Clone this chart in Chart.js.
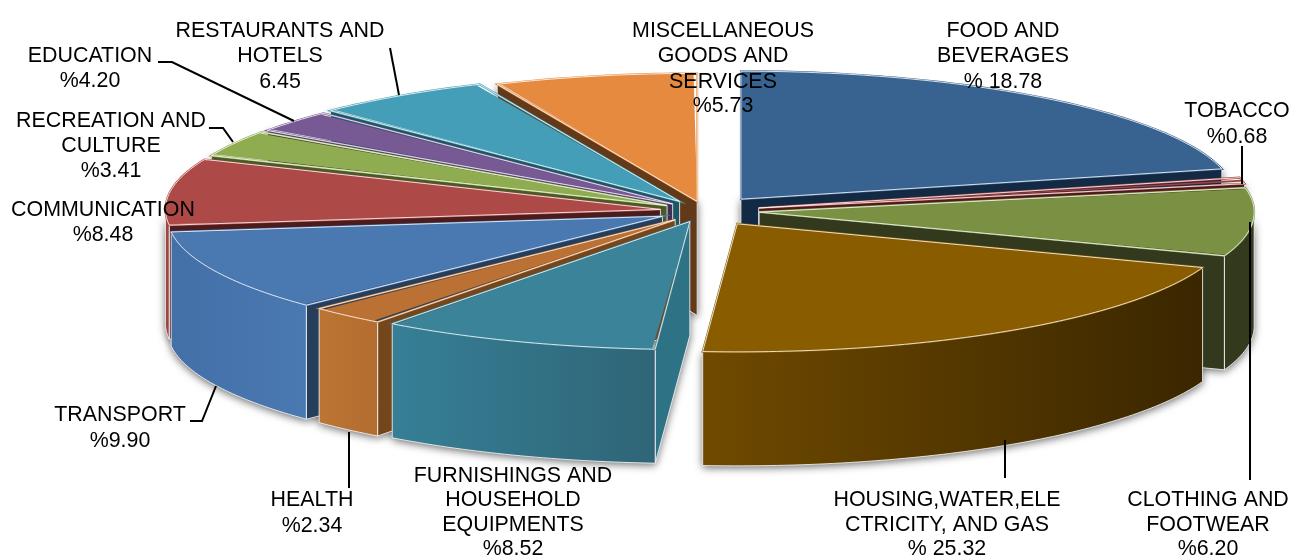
<!DOCTYPE html>
<html lang="en-US">
	<head>
		<meta charset="utf-8" />
		<title>Consumer basket weights</title>
		<style>
			body {
				margin: 0;
				background: #fff;
			}
		</style>
	</head>
	<body>
		<canvas id="chart" width="1293" height="559"></canvas>

		<script src="https://cdn.jsdelivr.net/npm/chart.js@4/dist/chart.umd.min.js"></script>
		<script>
			const categories = [
				["FOOD AND", "BEVERAGES"],
				["TOBACCO"],
				["CLOTHING AND", "FOOTWEAR"],
				["HOUSING,WATER,ELE", "CTRICITY, AND GAS"],
				["FURNISHINGS AND", "HOUSEHOLD", "EQUIPMENTS"],
				["HEALTH"],
				["TRANSPORT"],
				["COMMUNICATION"],
				["RECREATION AND", "CULTURE"],
				["EDUCATION"],
				["RESTAURANTS AND", "HOTELS"],
				["MISCELLANEOUS", "GOODS AND", "SERVICES"],
			];
			const values = [18.78, 0.68, 6.2, 25.32, 8.52, 2.34, 9.9, 8.48, 3.41, 4.2, 6.45, 5.73];
			const valueLabels = ["% 18.78", "%0.68", "%6.20", "% 25.32", "%8.52", "%2.34", "%9.90", "%8.48", "%3.41", "%4.20", "6.45", "%5.73"];

			const topColors = ["#38628f", "#a04040", "#7a9144", "#8a5c00", "#3a8399", "#bb7133", "#4a78b0", "#ad4947", "#8fac50", "#775a94", "#449eb8", "#e58a3f"];
			const sideColors = ["#132a45", "#4d1a1a", "#33391d", "#3a2600", "#2e7286", "#73461c", "#253e5c", "#4c1b1c", "#4a5a26", "#3f2f55", "#1f5663", "#623a1a"];
			const outerColors = [
				["#132a45", "#132a45"],
				["#4d1a1a", "#4d1a1a"],
				["#33391d", "#333a1e"],
				["#6f4a00", "#3a2600"],
				["#367f96", "#2f6577"],
				["#bd7535", "#b46c2f"],
				["#4470a8", "#4a78b0"],
				["#a04442", "#a04442"],
				["#6d8539", "#6d8539"],
				["#59436f", "#59436f"],
				["#337789", "#337789"],
				["#ac672f", "#ac672f"],
			];
			const explode = [106, 100, 99, 108, 79, 82, 86, 82, 79, 77, 82, 69];

			// where the pie sits on the page once it is tipped over
			const centerX = 705;
			const centerY = 211;
			const radiusX = 495;
			const radiusY = 128;
			const wallHeight = 114;

			// the original has camera perspective, slices on the right look wider.
			// [angle on a flat pie, angle it appears at], degrees clockwise from the top
			const perspective = [[0, 0], [70, 79], [92.4, 110], [183.5, 184], [222.6, 226], [258.3, 263], [301, 305], [316, 315], [339.4, 336.2], [360, 360]];

			const labelSpots = [
				{ x: 1003, y: [31, 56, 82] },
				{ x: 1237, y: [111, 137] },
				{ x: 1208, y: [500, 525, 549] },
				{ x: 947, y: [500, 525, 549] },
				{ x: 513, y: [476, 500, 525, 549] },
				{ x: 312, y: [500, 526] },
				{ x: 120, y: [415, 441] },
				{ x: 103, y: [210, 235] },
				{ x: 111, y: [121, 146, 171] },
				{ x: 90, y: [56, 81] },
				{ x: 280, y: [31, 56, 82] },
				{ x: 723, y: [31, 56, 82, 106] },
			];
			const leaders = [
				[[1242, 146], [1242, 184]],
				[[1250, 222], [1250, 480]],
				[[1005, 440], [1005, 478]],
				[[349, 432], [349, 488]],
				[[190, 421], [202, 421], [216, 386]],
				[[209, 128], [223, 128], [233, 142]],
				[[158, 62], [172, 62], [294, 121]],
				[[390, 48], [399, 95]],
			];

			function bend(radians) {
				const deg = (radians + Math.PI / 2) * 180 / Math.PI;
				for (let i = 1; i < perspective.length; i++) {
					const [a0, b0] = perspective[i - 1];
					const [a1, b1] = perspective[i];
					if (deg <= a1) {
						const out = b0 + (b1 - b0) * (deg - a0) / (a1 - a0);
						return out * Math.PI / 180 - Math.PI / 2;
					}
				}
				return radians;
			}

			let baseRadius = 1;

			function scaleX() {
				return radiusX / baseRadius;
			}
			function scaleY() {
				return radiusY / baseRadius;
			}

			// ArcElement moves a slice by a quarter of its offset option
			function shift(arc) {
				return arc.options.offset / 4;
			}

			// arc element geometry -> page position
			function rimPoint(arc, angle) {
				const mid = (arc.startAngle + arc.endAngle) / 2;
				return [
					centerX + scaleX() * (Math.cos(mid) * shift(arc) + Math.cos(angle) * baseRadius),
					centerY + scaleY() * (Math.sin(mid) * shift(arc) + Math.sin(angle) * baseRadius),
				];
			}
			function apexPoint(arc) {
				const mid = (arc.startAngle + arc.endAngle) / 2;
				return [centerX + scaleX() * Math.cos(mid) * shift(arc), centerY + scaleY() * Math.sin(mid) * shift(arc)];
			}

			function rimSamples(arc, from, to) {
				const pts = [];
				const n = Math.max(2, Math.ceil((to - from) * 60));
				for (let i = 0; i <= n; i++) {
					pts.push(rimPoint(arc, from + (to - from) * i / n));
				}
				return pts;
			}

			function polygon(ctx, pts) {
				ctx.beginPath();
				pts.forEach((p, i) => (i ? ctx.lineTo(p[0], p[1]) : ctx.moveTo(p[0], p[1])));
				ctx.closePath();
			}

			function sideFace(arc, angle) {
				const a = apexPoint(arc);
				const r = rimPoint(arc, angle);
				return [a, r, [r[0], r[1] + wallHeight], [a[0], a[1] + wallHeight]];
			}

			// only the cut that looks towards the viewer gets drawn
			function visibleSide(arc) {
				if (Math.cos(arc.startAngle) < 0) {
					return sideFace(arc, arc.startAngle);
				}
				if (Math.cos(arc.endAngle) > 0) {
					return sideFace(arc, arc.endAngle);
				}
				return null;
			}

			function outerFace(arc) {
				const from = Math.max(arc.startAngle, 0);
				const to = Math.min(arc.endAngle, Math.PI);
				if (from >= to) {
					return null;
				}
				const top = rimSamples(arc, from, to);
				const bottom = top.map((p) => [p[0], p[1] + wallHeight]).reverse();
				return top.concat(bottom);
			}

			function drawWalls(ctx, arcs) {
				const order = arcs
					.map((arc, i) => ({ arc, i }))
					.sort((p, q) => Math.sin((p.arc.startAngle + p.arc.endAngle) / 2) - Math.sin((q.arc.startAngle + q.arc.endAngle) / 2));

				// soft shadow under everything
				ctx.save();
				ctx.shadowColor = "rgba(0,0,0,0.6)";
				ctx.shadowBlur = 9;
				ctx.shadowOffsetY = 2;
				ctx.fillStyle = "#777";
				for (const { arc } of order) {
					const side = visibleSide(arc);
					if (side) {
						polygon(ctx, side);
						ctx.fill();
					}
					const outer = outerFace(arc);
					if (outer) {
						polygon(ctx, outer);
						ctx.fill();
					}
				}
				ctx.restore();

				ctx.lineWidth = 1;
				ctx.strokeStyle = "rgba(255,255,255,0.8)";
				for (const { arc, i } of order) {
					const side = visibleSide(arc);
					if (side) {
						ctx.fillStyle = sideColors[i];
						polygon(ctx, side);
						ctx.fill();
						ctx.stroke();
					}
					const outer = outerFace(arc);
					if (outer) {
						const xs = outer.map((p) => p[0]);
						const grad = ctx.createLinearGradient(Math.min(...xs), 0, Math.max(...xs), 0);
						grad.addColorStop(0, outerColors[i][0]);
						grad.addColorStop(1, outerColors[i][1]);
						ctx.fillStyle = grad;
						polygon(ctx, outer);
						ctx.fill();
						ctx.stroke();
					}
				}
			}

			const tiltedPie = {
				id: "tiltedPie",
				afterDatasetsUpdate(chart) {
					const arcs = chart.getDatasetMeta(0).data;
					baseRadius = arcs[0].outerRadius;
					for (const arc of arcs) {
						arc.startAngle = bend(arc.startAngle);
						arc.endAngle = bend(arc.endAngle);
						arc.circumference = arc.endAngle - arc.startAngle;
						// ArcElement grows narrow exploded slices, undo that so all rims line up
						const fix = 1 - Math.sin(Math.min(Math.PI, arc.circumference));
						arc.outerRadius = baseRadius - shift(arc) * fix;
					}
				},
				beforeDatasetsDraw(chart) {
					const ctx = chart.ctx;
					const arcs = chart.getDatasetMeta(0).data;
					drawWalls(ctx, arcs);
					ctx.save();
					ctx.translate(centerX, centerY);
					ctx.scale(scaleX(), scaleY());
					ctx.translate(-arcs[0].x, -arcs[0].y);
				},
				afterDatasetsDraw(chart) {
					const ctx = chart.ctx;
					ctx.restore();
					chart.getDatasetMeta(0).data.forEach((arc, i) => {
						polygon(ctx, [apexPoint(arc)].concat(rimSamples(arc, arc.startAngle, arc.endAngle)));
						// own colour first, closes the hairline gap against the walls
						ctx.lineWidth = 2;
						ctx.strokeStyle = topColors[i];
						ctx.stroke();
						ctx.lineWidth = 1;
						ctx.strokeStyle = "rgba(255,255,255,0.8)";
						ctx.stroke();
					});
				},
				afterDraw(chart) {
					const ctx = chart.ctx;
					ctx.save();
					ctx.strokeStyle = "#000";
					ctx.lineWidth = 2;
					for (const line of leaders) {
						ctx.beginPath();
						line.forEach((p, i) => (i ? ctx.lineTo(p[0], p[1]) : ctx.moveTo(p[0], p[1])));
						ctx.stroke();
					}
					ctx.fillStyle = "#000";
					ctx.font = '21.4px "Liberation Sans"';
					ctx.textAlign = "center";
					ctx.textBaseline = "middle";
					categories.forEach((lines, i) => {
						const spot = labelSpots[i];
						lines.concat(valueLabels[i]).forEach((text, j) => {
							ctx.fillText(text, spot.x, spot.y[j]);
						});
					});
					ctx.restore();
				},
			};

			new Chart(document.getElementById("chart"), {
				type: "pie",
				data: {
					labels: categories.map((c) => c.join(" ")),
					datasets: [
						{
							data: values,
							backgroundColor: topColors,
							borderWidth: 0,
							offset: explode,
							hoverOffset: 0,
							clip: false,
						},
					],
				},
				options: {
					responsive: false,
					animation: false,
					events: [],
					plugins: {
						legend: { display: false },
						tooltip: { enabled: false },
					},
				},
				plugins: [tiltedPie],
			});
		</script>
	</body>
</html>
